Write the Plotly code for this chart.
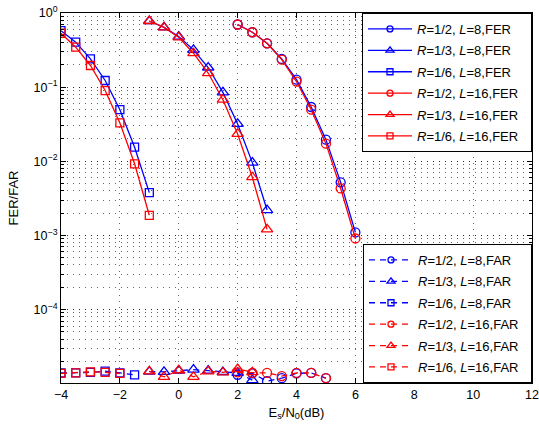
import plotly.graph_objects as go

# ---------------- data ----------------
x_r12 = [2, 2.5, 3, 3.5, 4, 4.5, 5, 5.5, 6]
x_r13 = [-1, -0.5, 0, 0.5, 1, 1.5, 2, 2.5, 3]
x_r16 = [-4, -3.5, -3, -2.5, -2, -1.5, -1]

fer_r12_l8 = [0.70, 0.55, 0.39, 0.24, 0.126, 0.054, 0.0196, 0.0052, 0.00110]
fer_r13_l8 = [0.78, 0.64, 0.48, 0.318, 0.184, 0.085, 0.0319, 0.0096, 0.00220]
fer_r16_l8 = [0.578, 0.404, 0.241, 0.123, 0.0497, 0.0155, 0.00378]
fer_r12_l16 = [0.70, 0.55, 0.39, 0.235, 0.119, 0.0497, 0.0173, 0.0043, 0.00091]
fer_r13_l16 = [0.78, 0.64, 0.47, 0.287, 0.155, 0.0677, 0.0234, 0.0061, 0.00121]
fer_r16_l16 = [0.533, 0.346, 0.196, 0.090, 0.0329, 0.00925, 0.00187]

xf_r12 = [2, 2.5, 3, 3.5, 4, 4.5, 5]
xf_r13 = [-1, -0.5, 0, 0.5, 1, 1.5, 2, 2.5]
xf_r16_l8 = [-4, -3.5, -3, -2.5, -2, -1.5]
xf_r16_l16 = [-4, -3.5, -3, -2.5, -2]

far_r12_l8 = [1.32e-5, 1.38e-5, 1.08e-5, 1.19e-5, 1.38e-5, 1.40e-5, 1.19e-5]
far_r13_l8 = [1.46e-5, 1.45e-5, 1.50e-5, 1.55e-5, 1.50e-5, 1.44e-5, 1.40e-5, 1.12e-5]
far_r16_l8 = [1.40e-5, 1.40e-5, 1.42e-5, 1.48e-5, 1.40e-5, 1.32e-5]
far_r12_l16 = [1.42e-5, 1.40e-5, 1.40e-5, 1.27e-5, 1.40e-5, 1.40e-5, 1.19e-5]
far_r13_l16 = [1.47e-5, 1.24e-5, 1.52e-5, 1.24e-5, 1.47e-5, 1.42e-5, 1.58e-5, 1.43e-5]
far_r16_l16 = [1.38e-5, 1.40e-5, 1.45e-5, 1.42e-5, 1.38e-5]

x_ticks = [-4, -2, 0, 2, 4, 6, 8, 10, 12]
x_ticktext = ["\u22124", "\u22122", "0", "2", "4", "6", "8", "10", "12"]
y_ticks = [1, 0.1, 0.01, 0.001, 0.0001]
y_ticktext = ["10<sup>0</sup>", "10<sup>\u22121</sup>", "10<sup>\u22122</sup>",
              "10<sup>\u22123</sup>", "10<sup>\u22124</sup>"]

BLUE = "rgb(0,0,255)"
RED = "rgb(255,0,0)"

fig = go.Figure()

fer_series = [
    (x_r12, fer_r12_l8, BLUE, "circle-open", 9, 6, "<i>R</i>=1/2, <i>L</i>=8,FER"),
    (x_r13, fer_r13_l8, BLUE, "triangle-up-open", 10, 7, "<i>R</i>=1/3, <i>L</i>=8,FER"),
    (x_r16, fer_r16_l8, BLUE, "square-open", 8, 6, "<i>R</i>=1/6, <i>L</i>=8,FER"),
    (x_r12, fer_r12_l16, RED, "circle-open", 9, 6, "<i>R</i>=1/2, <i>L</i>=16,FER"),
    (x_r13, fer_r13_l16, RED, "triangle-up-open", 10, 7, "<i>R</i>=1/3, <i>L</i>=16,FER"),
    (x_r16, fer_r16_l16, RED, "square-open", 8, 6, "<i>R</i>=1/6, <i>L</i>=16,FER"),
]
far_series = [
    (xf_r12, far_r12_l8, BLUE, "circle-open", 9, 6, "<i>R</i>=1/2, <i>L</i>=8,FAR"),
    (xf_r13, far_r13_l8, BLUE, "triangle-up-open", 10, 7, "<i>R</i>=1/3, <i>L</i>=8,FAR"),
    (xf_r16_l8, far_r16_l8, BLUE, "square-open", 8, 6, "<i>R</i>=1/6, <i>L</i>=8,FAR"),
    (xf_r12, far_r12_l16, RED, "circle-open", 9, 6, "<i>R</i>=1/2, <i>L</i>=16,FAR"),
    (xf_r13, far_r13_l16, RED, "triangle-up-open", 10, 7, "<i>R</i>=1/3, <i>L</i>=16,FAR"),
    (xf_r16_l16, far_r16_l16, RED, "square-open", 8, 6, "<i>R</i>=1/6, <i>L</i>=16,FAR"),
]

LW = 1.3
PAD = "\u00a0\u00a0"  # a little room on the right of the legend text, as in the reference
k = 0
for group, leg, dash in ((fer_series, "legend", "solid"), (far_series, "legend2", "6px,5px")):
    for xs, ys, c, sym, sz, lsz, name in group:
        k += 1
        # data trace
        fig.add_trace(go.Scatter(
            x=xs, y=ys, mode="lines+markers", name=name, showlegend=False,
            line=dict(color=c, width=LW, dash=dash),
            marker=dict(symbol=sym, size=sz, color=c, line=dict(width=LW, color=c)),
        ))
        # legend entry (no data; smaller legend marker as in the reference)
        fig.add_trace(go.Scatter(
            x=[None], y=[None], mode="lines+markers", name=name + PAD, legend=leg,
            legendgroup=f"g{k}",
            line=dict(color=c, width=LW, dash=dash),
            marker=dict(symbol=sym, size=lsz, color=c, line=dict(width=LW, color=c)),
        ))

FONT = "Liberation Sans, Arial, Helvetica, sans-serif"
legend_common = dict(
    bgcolor="white", bordercolor="black", borderwidth=1,
    font=dict(family=FONT, size=13, color="black"),
    xanchor="right", x=1, itemwidth=44, tracegroupgap=1.5,
)

GRID = dict(showgrid=True, gridcolor="rgba(0,0,0,0.6)", griddash="1px,5px", gridwidth=1)

fig.update_layout(
    width=539, height=428,
    margin=dict(l=61, r=7, t=13, b=45),
    paper_bgcolor="white", plot_bgcolor="white",
    font=dict(family=FONT, size=12, color="black"),
    legend=dict(yanchor="top", y=1, **legend_common),
    legend2=dict(yanchor="bottom", y=0, **legend_common),
    xaxis=dict(
        range=[-4, 12], tickvals=x_ticks, ticktext=x_ticktext, automargin=False,
        showline=True, linecolor="black", linewidth=1, mirror="allticks",
        ticks="inside", ticklen=5, tickcolor="black",
        zeroline=False, **GRID,
        title=dict(text="E<sub>s</sub>/N<sub>0</sub>(dB)", font=dict(size=13), standoff=6),
        tickfont=dict(size=12.5),
    ),
    yaxis=dict(
        type="log", range=[-4.99, 0], tickvals=y_ticks, ticktext=y_ticktext, automargin=False,
        showline=True, linecolor="black", linewidth=1, mirror="allticks",
        ticks="inside", ticklen=5, tickcolor="black",
        minor=dict(dtick="D1", ticks="inside", ticklen=3, tickcolor="black", **GRID),
        zeroline=False, **GRID,
        title=dict(text="FER/FAR", font=dict(size=13), standoff=12),
        tickfont=dict(size=12.5),
    ),
)

# remove the browser's default 8px page margin so the figure fills the window exactly
fig.write_html(
    "out.html",
    config={"displayModeBar": False},
    post_script="document.body.style.margin='0';document.body.style.overflow='hidden';",
)
